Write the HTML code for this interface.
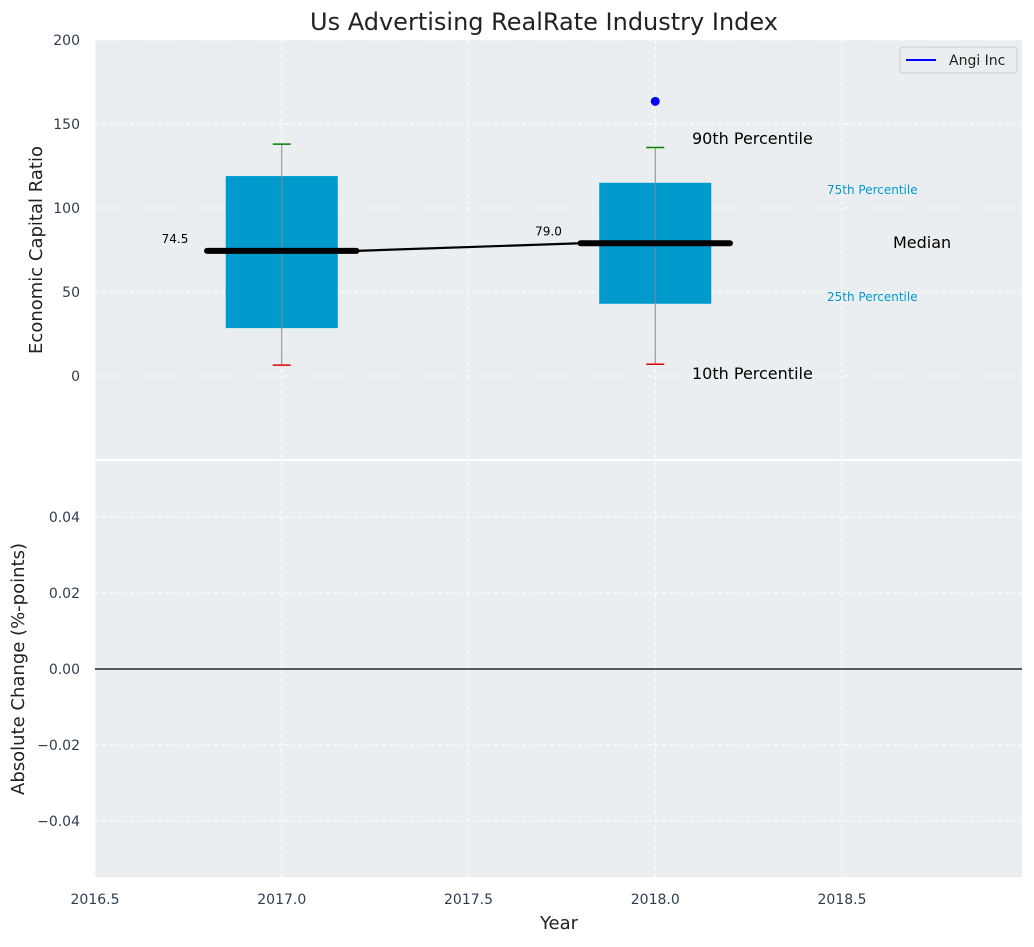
<!DOCTYPE html>
<html><head><meta charset="utf-8"><style>
body{margin:0;background:#fff;font-family:"Liberation Sans","DejaVu Sans",sans-serif;}
svg text{font-family:"DejaVu Sans","Liberation Sans",sans-serif;}
</style></head><body>
<svg id="c" width="1034" height="942" xmlns="http://www.w3.org/2000/svg">
<text x="544" y="30" font-size="24" text-anchor="middle" fill="#222">Us Advertising RealRate Industry Index</text>
<rect x="95" y="40" width="927" height="419" fill="#eaeef0"/>
<rect x="95" y="461" width="927" height="416" fill="#eaeef0"/>
<g id="grid"></g>
<g id="marks"></g>
<text x="42" y="250" font-size="18" fill="#222" text-anchor="middle" transform="rotate(-90 42 250)">Economic Capital Ratio</text>
<text x="24" y="669" font-size="18" fill="#222" text-anchor="middle" transform="rotate(-90 24 669)">Absolute Change (%-points)</text>
<text x="559" y="929" font-size="18" fill="#222" text-anchor="middle">Year</text>
<g>
<rect x="900" y="47" width="117" height="26" rx="3" fill="#eaeef0" stroke="#ccc"/>
<line x1="906" y1="60" x2="936" y2="60" stroke="#0000ff" stroke-width="2"/>
<text x="949" y="65" font-size="14" fill="#222">Angi Inc</text>
</g>
</svg>
<script>
const years=[2017,2018];
const p10=[6.5,7];
const p25=[28.5,43];
const medians=[74.5,79.0];
const p75=[119,115];
const p90=[138,136];
const companyYears=[2018];
const companyVals=[163.5];
const xTicks=[2016.5,2017.0,2017.5,2018.0,2018.5];
const yTicksTop=[0,50,100,150,200];
const yTicksBot=[-0.04,-0.02,0.00,0.02,0.04];
const NS="http://www.w3.org/2000/svg";
const X=v=>95+(v-2016.5)*373.5;
const YT=v=>376-v*1.68;
const YB=v=>669-v*3800;
function el(t,a,p){const e=document.createElementNS(NS,t);for(const k in a)e.setAttribute(k,a[k]);document.getElementById(p).appendChild(e);return e;}
xTicks.forEach(t=>{
 let g=el('line',{x1:X(t),x2:X(t),y1:40,y2:459,stroke:'#fff','stroke-dasharray':'4,3','stroke-width':1},'grid');
 
 
 g=el('line',{x1:X(t),x2:X(t),y1:461,y2:877,stroke:'#fff','stroke-dasharray':'4,3','stroke-width':1},'grid');
 
 
 const l=el('text',{x:X(t),y:904,'font-size':14,fill:'#2c3e50','text-anchor':'middle'},'grid');l.textContent=t.toFixed(1);
 
 
});
yTicksTop.forEach(t=>{
 const g=el('line',{x1:95,x2:1022,y1:YT(t),y2:YT(t),stroke:'#fff','stroke-dasharray':'4,3'},'grid');
 
 
 const l=el('text',{x:80,y:YT(t)+5,'font-size':14,fill:'#2c3e50','text-anchor':'end'},'grid');l.textContent=t;
 
 
});
yTicksBot.forEach(t=>{
 const g=el('line',{x1:95,x2:1022,y1:YB(t),y2:YB(t),stroke:'#fff','stroke-dasharray':'4,3'},'grid');
 
 
 const l=el('text',{x:80,y:YB(t)+5,'font-size':14,fill:'#2c3e50','text-anchor':'end'},'grid');l.textContent=(t<0?'\u2212':'')+Math.abs(t).toFixed(2);
 
 
});
let z=el('line',{x1:95,x2:1022,y1:YB(0),y2:YB(0),stroke:'#000','stroke-width':1.2},'marks');


years.forEach((y,i)=>{
 let b=el('rect',{x:X(y-0.15),y:YT(p75[i]),width:X(y+0.15)-X(y-0.15),height:YT(p25[i])-YT(p75[i]),fill:'#009acd'},'marks');
 
 
 let w=el('line',{x1:X(y),x2:X(y),y1:YT(p90[i]),y2:YT(p10[i]),stroke:'#888','stroke-width':1},'marks');
 
 
 let c=el('line',{x1:X(y)-9,x2:X(y)+9,y1:YT(p90[i]),y2:YT(p90[i]),stroke:'#008000','stroke-width':1.5},'marks');
 
 
 c=el('line',{x1:X(y)-9,x2:X(y)+9,y1:YT(p10[i]),y2:YT(p10[i]),stroke:'#e00000','stroke-width':1.5},'marks');
 
 
});
let ml=el('line',{x1:X(years[0]+0.2),y1:YT(medians[0]),x2:X(years[1]-0.2),y2:YT(medians[1]),stroke:'#000','stroke-width':2.2},'marks');


years.forEach((y,i)=>{
 let m=el('line',{x1:X(y-0.2),x2:X(y+0.2),y1:YT(medians[i]),y2:YT(medians[i]),stroke:'#000','stroke-width':6,'stroke-linecap':'round'},'marks');
 
 
 const t=el('text',{x:X(y-0.25),y:YT(medians[i])-8,'font-size':12,fill:'#000','text-anchor':'end'},'marks');t.textContent=medians[i].toFixed(1);
 
 
});
companyYears.forEach((y,i)=>{
 const d=el('circle',{cx:X(y),cy:YT(companyVals[i]),r:4.5,fill:'#0000ff'},'marks');
 
 
});
const ann=[["90th Percentile",692,144,16,'#000'],["10th Percentile",692,379,16,'#000'],["75th Percentile",827,194,12,'#009acd'],["25th Percentile",827,301,12,'#009acd'],["Median",893,248,16,'#000']];
ann.forEach(a=>{
 const t=el('text',{x:a[1],y:a[2],'font-size':a[3],fill:a[4]},'marks');t.textContent=a[0];
 
 
});
</script>
</body></html>
